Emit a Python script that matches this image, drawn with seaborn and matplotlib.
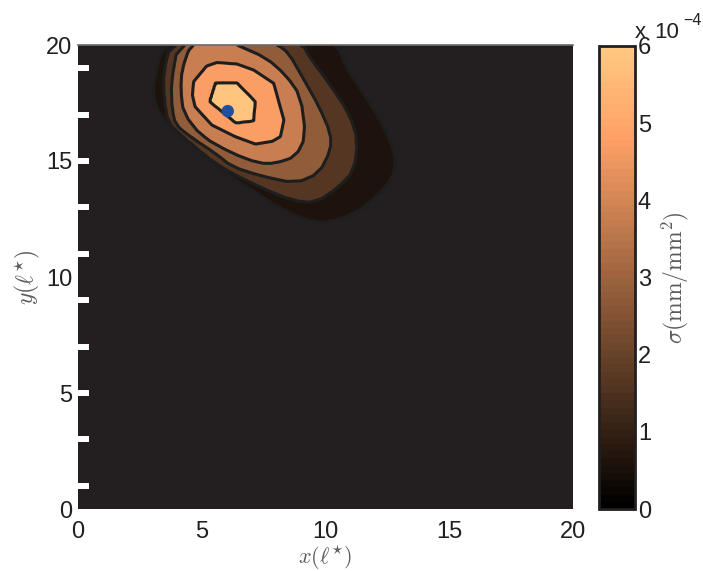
import numpy as np
import matplotlib
matplotlib.use('Agg')
import matplotlib.pyplot as plt
import seaborn as sns
from matplotlib.colors import Normalize

# contour levels of sigma (mm/mm^2) and the peak
level_values = [0.6e-4, 1.6e-4, 2.8e-4, 3.8e-4, 4.75e-4, 5.9e-4]
peak_value = 6.3e-4
peak_x, peak_y = 6.25, 17.5

# contour outlines (x, y in l*), outer ring first
ring1_x = [3.45, 3.08, 3.04, 3.37, 4.06, 5.1, 6.2, 7.4, 8.52, 9.6, 10.55, 11.64, 12.7, 12.86, 12.3, 11.36, 10.82, 10.5, 7.0]
ring1_y = [20.0, 18.5, 17.7, 16.9, 16.2, 15.25, 14.3, 13.5, 12.76, 12.33, 12.46, 13.02, 14.18, 15.17, 16.64, 18.19, 19.07, 20.0, 22.3]
ring2_x = [3.72, 3.45, 3.49, 3.65, 4.33, 5.55, 6.22, 7.4, 8.65, 9.6, 10.55, 11.15, 11.3, 10.95, 10.14, 9.33, 9.1, 6.3]
ring2_y = [20.0, 18.78, 17.63, 16.62, 15.76, 14.9, 14.47, 13.85, 13.3, 13.2, 13.89, 14.6, 15.9, 17.06, 18.35, 19.5, 20.0, 21.6]
ring3_x = [4.03, 3.76, 3.79, 3.92, 4.6, 5.55, 6.22, 7.4, 8.79, 9.74, 10.21, 10.21, 9.74, 9.06, 8.52, 8.1, 6.0]
ring3_y = [20.0, 18.35, 17.34, 16.56, 16.0, 15.33, 14.75, 14.35, 14.04, 14.47, 15.47, 16.19, 17.34, 18.63, 19.64, 20.0, 21.0]
ring4_x = [4.15, 4.19, 4.53, 5.4, 6.42, 7.6, 8.4, 9.0, 9.2, 8.79, 7.98, 7.3, 6.22, 5.0, 4.26]
ring4_y = [18.06, 18.92, 20.0, 20.5, 20.0, 19.45, 18.7, 17.8, 16.05, 15.19, 14.9, 14.9, 15.33, 16.05, 17.06]
ring5_x = [4.67, 5.2, 5.61, 6.42, 7.10, 7.91, 8.11, 8.32, 8.18, 7.85, 7.17, 6.36, 5.41, 4.73, 4.62]
ring5_y = [18.42, 19.09, 19.24, 19.18, 18.92, 18.35, 17.56, 16.77, 16.05, 15.85, 15.73, 16.05, 16.55, 17.34, 17.84]
ring6_x = [5.55, 6.42, 7.17, 7.10, 6.38, 5.31]
ring6_y = [18.38, 18.38, 17.56, 16.72, 16.63, 17.56]

source_x = [6.05]
source_y = [17.15]
notch_y = [1, 3, 5, 7, 9, 11, 13, 15, 17, 19]
axis_ticks = [0, 5, 10, 15, 20]
cbar_ticks = [0, 1, 2, 3, 4, 5, 6]

rings = [(ring1_x, ring1_y), (ring2_x, ring2_y), (ring3_x, ring3_y),
         (ring4_x, ring4_y), (ring5_x, ring5_y), (ring6_x, ring6_y)]


def chaikin(xs, ys):
    """one corner-cutting pass, the outer contours are rounder than the inner ones"""
    x = np.array(xs, dtype=float)
    y = np.array(ys, dtype=float)
    xn, yn = np.roll(x, -1), np.roll(y, -1)
    qx, qy = 0.75 * x + 0.25 * xn, 0.75 * y + 0.25 * yn
    rx, ry = 0.25 * x + 0.75 * xn, 0.25 * y + 0.75 * yn
    return np.column_stack([qx, rx]).ravel(), np.column_stack([qy, ry]).ravel()


def ring_radius(theta, xs, ys):
    """distance from the peak to the outline polygon along direction theta"""
    px = np.array(xs) - peak_x
    py = np.array(ys) - peak_y
    ex = np.roll(px, -1) - px
    ey = np.roll(py, -1) - py
    dx = np.cos(theta)[..., None]
    dy = np.sin(theta)[..., None]
    den = dx * ey - dy * ex
    with np.errstate(divide='ignore', invalid='ignore'):
        t = (px * ey - py * ex) / den
        s = (px * dy - py * dx) / den
    ok = (s >= 0) & (s <= 1) & (t > 0)
    return np.where(ok, t, np.inf).min(axis=-1)


# build the field on a grid from the outlines
gx, gy = np.meshgrid(np.linspace(0, 20, 401), np.linspace(0, 20, 401))
theta = np.arctan2(gy - peak_y, gx - peak_x)
dist = np.hypot(gx - peak_x, gy - peak_y)

outlines = [chaikin(xs, ys) for xs, ys in rings[:4]] + rings[4:]
radii = [np.zeros_like(dist)] + [ring_radius(theta, xs, ys) for xs, ys in reversed(outlines)]
values = [peak_value] + level_values[::-1]
radii.append(radii[-1] + 1.5)
values.append(0.0)
sigma = np.zeros_like(dist)
for k in range(len(radii) - 1):
    r0, r1 = radii[k], radii[k + 1]
    inside = (dist >= r0) & (dist < r1)
    t = (dist - r0) / np.maximum(r1 - r0, 1e-9)
    sigma = np.where(inside, values[k] + t * (values[k + 1] - values[k]), sigma)

sns.set_style('white')
plt.rcParams['font.family'] = ['Liberation Sans', 'DejaVu Sans']
plt.rcParams['mathtext.fontset'] = 'cm'

ink = '#231f20'
label_grey = '#5a5a5a'
cmap = plt.get_cmap('copper', 64)
norm = Normalize(0, 6e-4)
band_colors = [cmap(norm(v)) for v in level_values]

fig = plt.figure(figsize=(7.03, 5.71), dpi=100)
ax = fig.add_axes([78 / 703, 62 / 571, 495 / 703, 464 / 571])
ax.set_facecolor(ink)

ax.contourf(gx, gy, sigma, levels=level_values + [peak_value + 1e-5], colors=band_colors)
ax.contour(gx, gy, sigma, levels=level_values, colors='#1e1e1e', linewidths=2.2)
sns.scatterplot(x=source_x, y=source_y, color='#1f4f9f', s=80, edgecolor='none', ax=ax, zorder=6)

# white notches along the left edge
ax.hlines(notch_y, 0, 0.44, colors='white', linewidth=4.3, clip_on=False, zorder=7)

ax.set_xlim(0, 20)
ax.set_ylim(0, 20)
ax.set_xticks(axis_ticks)
ax.set_yticks(axis_ticks)
ax.tick_params(length=0, labelsize=17, colors=ink)
ax.tick_params(axis='x', pad=9)
ax.tick_params(axis='y', pad=4)
for side in ['left', 'right', 'bottom']:
    ax.spines[side].set_visible(False)
ax.spines['top'].set_color('#6a6a6a')
ax.spines['top'].set_linewidth(1.2)
ax.set_xlabel(r'$x(\ell^{\star})$', fontsize=16, color=label_grey, labelpad=0)
ax.set_ylabel(r'$y(\ell^{\star})$', fontsize=17, color=label_grey, labelpad=3)

# colorbar
cax = fig.add_axes([599 / 703, 62 / 571, 36 / 703, 463 / 571])
cb = fig.colorbar(plt.cm.ScalarMappable(norm=norm, cmap=cmap), cax=cax)
cb.set_ticks([v * 1e-4 for v in cbar_ticks])
cb.set_ticklabels([str(v) for v in cbar_ticks])
cax.tick_params(direction='in', length=3, width=1, left=True, right=True,
                labelsize=17, pad=2, colors=ink)
cb.outline.set_linewidth(2)
cb.outline.set_edgecolor(ink)
cb.set_label(r'$\sigma(\mathrm{mm}/\mathrm{mm}^2)$', fontsize=17, color=label_grey, labelpad=6)

fig.text(635 / 703, 1 - 38 / 571, 'x', fontsize=16, color=ink, va='baseline')
fig.text(654 / 703, 1 - 38 / 571, '10', fontsize=16, color=ink, va='baseline')
fig.text(683 / 703, 1 - 25 / 571, '\u22124', fontsize=11.5, color=ink, va='baseline')

fig.savefig('out.png', dpi=100)
